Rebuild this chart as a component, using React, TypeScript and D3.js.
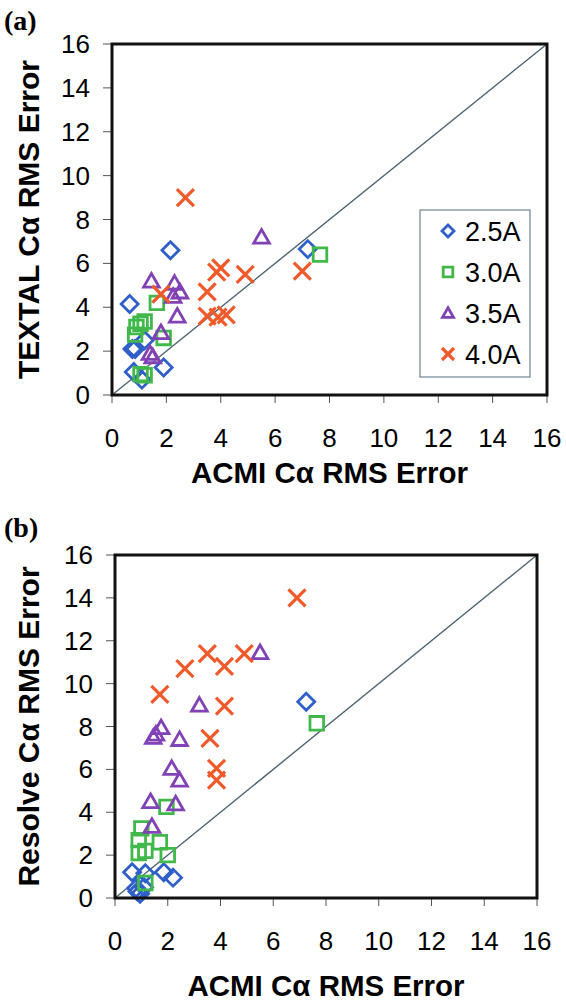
import React from "react";
import * as d3 from "d3";

// tick values shared by both panels
const tickValues = [0, 2, 4, 6, 8, 10, 12, 14, 16];
const seriesNames = ["2.5A", "3.0A", "3.5A", "4.0A"];

// panel (a): ACMI vs TEXTAL
const a25 = [[0.65, 4.15], [0.75, 2.1], [0.85, 2.1], [1.2, 2.5], [1.9, 1.25], [0.8, 1.05], [1.1, 0.7], [2.15, 6.6], [7.2, 6.65]];
const a30 = [[1.65, 4.2], [0.9, 3.1], [1.05, 3.25], [1.2, 3.35], [0.85, 2.75], [1.9, 2.6], [1.05, 0.95], [1.2, 0.9], [7.65, 6.4]];
const a35 = [[1.45, 5.2], [2.3, 5.1], [2.5, 4.7], [2.25, 4.5], [2.4, 3.6], [1.8, 2.85], [1.4, 1.9], [1.5, 1.75], [5.5, 7.2]];
const a40 = [[2.7, 9.0], [3.85, 5.6], [4.0, 5.8], [4.9, 5.5], [3.5, 4.7], [1.8, 4.6], [3.5, 3.6], [3.9, 3.55], [4.2, 3.65], [7.0, 5.65]];

// panel (b): ACMI vs Resolve
const b25 = [[0.65, 1.2], [1.15, 1.15], [1.85, 1.2], [2.2, 0.95], [0.8, 0.45], [0.95, 0.2], [1.1, 0.5], [0.85, 0.3], [7.25, 9.15]];
const b30 = [[1.95, 4.25], [1.0, 3.25], [0.9, 2.7], [0.9, 2.1], [1.15, 2.2], [1.7, 2.6], [2.0, 2.0], [1.15, 0.7], [7.65, 8.15]];
const b35 = [[5.5, 11.45], [3.2, 9.0], [1.75, 7.95], [1.45, 7.5], [1.55, 7.65], [2.45, 7.4], [2.15, 6.05], [2.45, 5.5], [1.35, 4.5], [2.3, 4.4], [1.4, 3.35]];
const b40 = [[6.9, 14.0], [3.5, 11.4], [4.9, 11.4], [2.65, 10.7], [4.15, 10.8], [1.7, 9.5], [4.15, 8.95], [3.6, 7.45], [3.85, 6.05], [3.85, 5.5]];

const colors = ["#2f5fc8", "#40b84a", "#8042b4", "#f05a2a"];
const FONT = "'Liberation Sans', Arial, sans-serif";

function markerPath(kind: number, r: number) {
  if (kind === 0) return `M0,${-r}L${r},0L0,${r}L${-r},0Z`;
  if (kind === 1) { const h = r * 0.8; return `M${-h},${-h}H${h}V${h}H${-h}Z`; }
  if (kind === 2) { const w = r * 0.92; return `M0,${-r * 0.88}L${w},${r * 0.72}L${-w},${r * 0.72}Z`; }
  return `M${-r},${-r}L${r},${r}M${r},${-r}L${-r},${r}`;
}

function Marker({ kind, x, y, r }: any) {
  return (
    <path
      d={markerPath(kind, r)}
      transform={`translate(${x},${y})`}
      fill="none"
      stroke={colors[kind]}
      strokeWidth={kind === 3 ? 3.2 : 2.8}
      strokeLinejoin="miter"
    />
  );
}

function Panel({ label, labelY, yTitle, left, right, top, bottom, series, legend, titleY }: any) {
  const x = d3.scaleLinear().domain([0, 16]).range([left, right]);
  const y = d3.scaleLinear().domain([0, 16]).range([bottom, top]);
  return (
    <g>
      <text x={4} y={labelY} fontFamily="'Liberation Serif', 'Times New Roman', serif" fontWeight="bold" fontSize={28}>{label}</text>
      {tickValues.map((t) => (
        <g key={"y" + t}>
          <line x1={left - 9} x2={left} y1={y(t)} y2={y(t)} stroke="#555" strokeWidth={1} />
          <text x={left - 22} y={y(t) + 9} textAnchor="end" fontFamily={FONT} fontSize={26}>{t}</text>
        </g>
      ))}
      {tickValues.map((t) => (
        <g key={"x" + t}>
          <line x1={x(t)} x2={x(t)} y1={bottom} y2={bottom + 8} stroke="#555" strokeWidth={1} />
          <text x={x(t)} y={bottom + 52} textAnchor="middle" fontFamily={FONT} fontSize={26}>{t}</text>
        </g>
      ))}
      <line x1={x(0)} y1={y(0)} x2={x(16)} y2={y(16)} stroke="#4d6470" strokeWidth={1.4} />
      {series.map((pts: number[][], k: number) =>
        pts.map((p, i) => <Marker key={k + "-" + i} kind={k} x={x(p[0])} y={y(p[1])} r={8.5} />)
      )}
      <rect x={left} y={top} width={right - left} height={bottom - top} fill="none" stroke="#111" strokeWidth={3} />
      {legend && (
        <g>
          <rect x={420} y={210} width={110} height={167} fill="#fff" stroke="#6f8494" strokeWidth={1.2} />
          {seriesNames.map((s, k) => (
            <g key={s}>
              <Marker kind={k} x={448} y={231 + k * 41} r={6} />
              <text x={465} y={241 + k * 41} fontFamily={FONT} fontSize={27}>{s}</text>
            </g>
          ))}
        </g>
      )}
      <text x={(left + right) / 2} y={titleY} textAnchor="middle" fontFamily={FONT} fontWeight="bold" fontSize={29.5}>ACMI Cα RMS Error</text>
      <text transform={`translate(39,${(top + bottom) / 2}) rotate(-90)`} textAnchor="middle" fontFamily={FONT} fontWeight="bold" fontSize={30}>{yTitle}</text>
    </g>
  );
}

export default function App() {
  return (
    <svg width={566} height={1004} style={{ position: "absolute", left: 0, top: 0, background: "#fff" }}>
      <Panel label="(a)" labelY={30} yTitle="TEXTAL Cα RMS Error" left={112} right={547} top={44} bottom={395}
        series={[a25, a30, a35, a40]} legend titleY={483} />
      <Panel label="(b)" labelY={537} yTitle="Resolve Cα RMS Error" left={115} right={537} top={555} bottom={898}
        series={[b25, b30, b35, b40]} legend={false} titleY={996} />
    </svg>
  );
}
